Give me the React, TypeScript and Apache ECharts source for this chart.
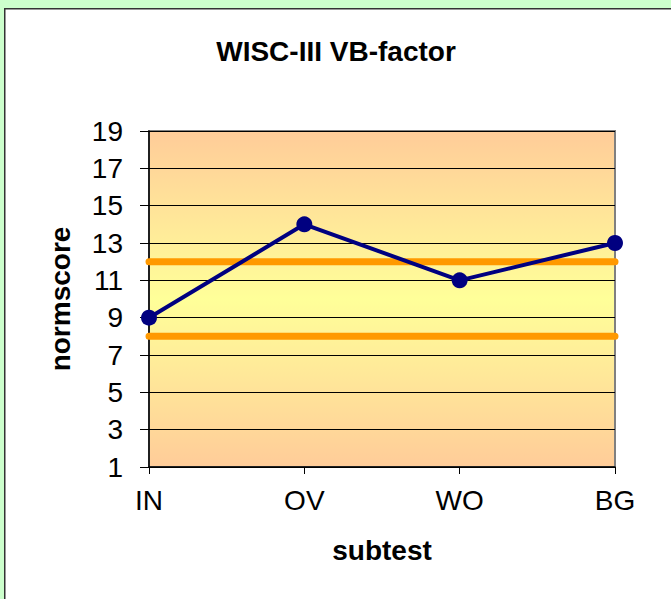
import React, { useEffect, useRef } from "react";
import * as echarts from "echarts";

const categories = ["IN", "OV", "WO", "BG"];
const scores = [9, 14, 11, 13];
const lowerBound = [8, 8, 8, 8];
const upperBound = [12, 12, 12, 12];
const yMin = 1;
const yMax = 19;
const yStep = 2;

export default function App() {
  const ref = useRef<HTMLDivElement>(null);
  useEffect(() => {
    if (!ref.current) return;
    const chart = echarts.init(ref.current, null, { renderer: "svg" });
    const font = "Liberation Sans, Arial, sans-serif";
    chart.setOption({
      animation: false,
      backgroundColor: "transparent",
      graphic: [
        {
          type: "rect",
          left: 4,
          top: 8,
          shape: { x: 0, y: 0, width: 700, height: 700 },
          style: { fill: "#ffffff", stroke: "#333333", lineWidth: 1.5 },
          z: -10,
        },
      ],
      title: {
        text: "WISC-III VB-factor",
        left: 331,
        textAlign: "center",
        top: 32,
        textStyle: { fontFamily: font, fontWeight: "bold", fontSize: 28, color: "#000" },
      },
      grid: {
        left: 149,
        top: 131,
        width: 466,
        height: 336,
        show: true,
        borderColor: "#808080",
        borderWidth: 2,
        backgroundColor: {
          type: "linear",
          x: 0,
          y: 0,
          x2: 0,
          y2: 1,
          colorStops: [
            { offset: 0, color: "#FFCC99" },
            { offset: 0.5, color: "#FFFF99" },
            { offset: 1, color: "#FFCC99" },
          ],
        },
      },
      xAxis: {
        type: "category",
        data: categories,
        boundaryGap: false,
        name: "subtest",
        nameLocation: "middle",
        nameGap: 69,
        nameMoveOverlap: false,
        nameTextStyle: { fontFamily: font, fontWeight: "bold", fontSize: 28, color: "#000" },
        axisLine: { lineStyle: { color: "#000", width: 1.5 } },
        axisTick: { show: true, length: 7, lineStyle: { color: "#000" } },
        axisLabel: { fontFamily: font, fontSize: 28, color: "#000", margin: 19 },
        splitLine: { show: false },
      },
      yAxis: {
        type: "value",
        min: yMin,
        max: yMax,
        interval: yStep,
        startValue: yMin,
        name: "normscore",
        nameLocation: "middle",
        nameGap: 75,
        nameMoveOverlap: false,
        nameTextStyle: { fontFamily: font, fontWeight: "bold", fontSize: 28, color: "#000" },
        axisLine: { show: true, lineStyle: { color: "#000", width: 1.5 } },
        axisTick: { show: true, length: 9, lineStyle: { color: "#000" } },
        axisLabel: { fontFamily: font, fontSize: 28, color: "#000", margin: 26 },
        splitLine: { show: true, lineStyle: { color: "#000", width: 1 } },
      },
      series: [
        {
          type: "line",
          data: lowerBound,
          symbol: "none",
          lineStyle: { color: "#FF9900", width: 7, cap: "round" },
          z: 2,
          silent: true,
        },
        {
          type: "line",
          data: upperBound,
          symbol: "none",
          lineStyle: { color: "#FF9900", width: 7, cap: "round" },
          z: 2,
          silent: true,
        },
        {
          type: "line",
          data: scores,
          symbol: "circle",
          symbolSize: 16,
          lineStyle: { color: "#000080", width: 4 },
          itemStyle: { color: "#000080" },
          z: 3,
        },
      ],
    });
    return () => chart.dispose();
  }, []);
  return (
    <div
      style={{
        position: "fixed",
        left: 0,
        top: 0,
        width: 671,
        height: 599,
        background: "#CCFFCC",
      }}
    >
      <div ref={ref} style={{ width: 671, height: 599 }} />
    </div>
  );
}
